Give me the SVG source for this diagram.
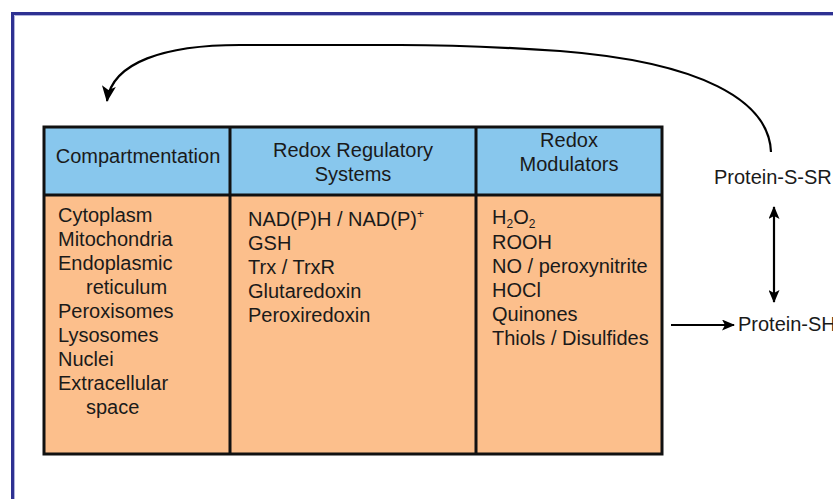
<svg xmlns="http://www.w3.org/2000/svg" width="833" height="499" viewBox="0 0 833 499">
<style>
text{font-family:"Liberation Sans",Arial,sans-serif;font-size:20px;fill:#1a1a1a}
.hd{fill:#88c7ed}
.bd{fill:#fcbf8c}
.ln{stroke:#111;stroke-width:3;fill:none}
.c{text-anchor:middle}
.cn{stroke:#000;stroke-width:2.2;fill:none}
</style>
<defs>
<marker id="ah" viewBox="0 0 13 11" refX="12" refY="5.5" markerWidth="13" markerHeight="11" markerUnits="userSpaceOnUse" orient="auto-start-reverse">
<path d="M0,0 L13,5.5 L0,11 L3,5.5 Z" fill="#000"/>
</marker>
<marker id="ah2" viewBox="0 0 16 14" refX="15" refY="7" markerWidth="16" markerHeight="14" markerUnits="userSpaceOnUse" orient="auto">
<path d="M0,0 L16,7 L0,14 L4,7 Z" fill="#000"/>
</marker>
</defs>
<rect x="0" y="0" width="833" height="499" fill="#fff"/>
<path d="M12.5 499 V13.5 H833" fill="none" stroke="#2e3192" stroke-width="3"/>
<path d="M14.5 499 V15.5 H833" fill="none" stroke="#b0b3dc" stroke-width="1"/>

<g id="table">
<rect x="44" y="127" width="618" height="68" class="hd"/>
<rect x="44" y="195" width="618" height="259" class="bd"/>
<rect x="44" y="127" width="618" height="327" class="ln"/>
<line x1="44" y1="195" x2="662" y2="195" class="ln"/>
<line x1="230" y1="127" x2="230" y2="454" class="ln"/>
<line x1="476" y1="127" x2="476" y2="454" class="ln"/>
</g>

<g id="col-compartmentation">
<text x="138" y="163" class="c">Compartmentation</text>
<text x="58" y="222">Cytoplasm</text>
<text x="58" y="246">Mitochondria</text>
<text x="58" y="270">Endoplasmic</text>
<text x="86" y="294">reticulum</text>
<text x="58" y="318">Peroxisomes</text>
<text x="58" y="342">Lysosomes</text>
<text x="58" y="366">Nuclei</text>
<text x="58" y="390">Extracellular</text>
<text x="86" y="414">space</text>
</g>

<g id="col-redox-regulatory">
<text x="353" y="157" class="c">Redox Regulatory</text>
<text x="353" y="181" class="c">Systems</text>
<text x="248" y="226">NAD(P)H / NAD(P)<tspan font-size="12" dy="-8">+</tspan></text>
<text x="248" y="250">GSH</text>
<text x="248" y="274">Trx / TrxR</text>
<text x="248" y="298">Glutaredoxin</text>
<text x="248" y="322">Peroxiredoxin</text>
</g>

<g id="col-redox-modulators">
<text x="569" y="147" class="c">Redox</text>
<text x="569" y="171" class="c">Modulators</text>
<text x="492" y="224">H<tspan font-size="12" dy="4">2</tspan><tspan dy="-4">O</tspan><tspan font-size="12" dy="4">2</tspan></text>
<text x="492" y="249">ROOH</text>
<text x="492" y="273">NO / peroxynitrite</text>
<text x="492" y="297">HOCl</text>
<text x="492" y="321">Quinones</text>
<text x="492" y="345">Thiols / Disulfides</text>
</g>

<g id="protein-s-sr">
<text x="714" y="184">Protein-S-SR</text>
</g>
<g id="protein-sh">
<text x="738" y="331">Protein-SH</text>
</g>

<g id="connectors">
<path d="M771 152 C769 100 700 62 560 51 C500 47 440 45 400 45 L240 45 C165 45 112 62 107 101" class="cn" marker-end="url(#ah2)"/>
<line x1="774" y1="207" x2="774" y2="302" class="cn" marker-start="url(#ah)" marker-end="url(#ah)"/>
<line x1="671" y1="325" x2="734" y2="325" class="cn" marker-end="url(#ah)"/>
</g>
</svg>
